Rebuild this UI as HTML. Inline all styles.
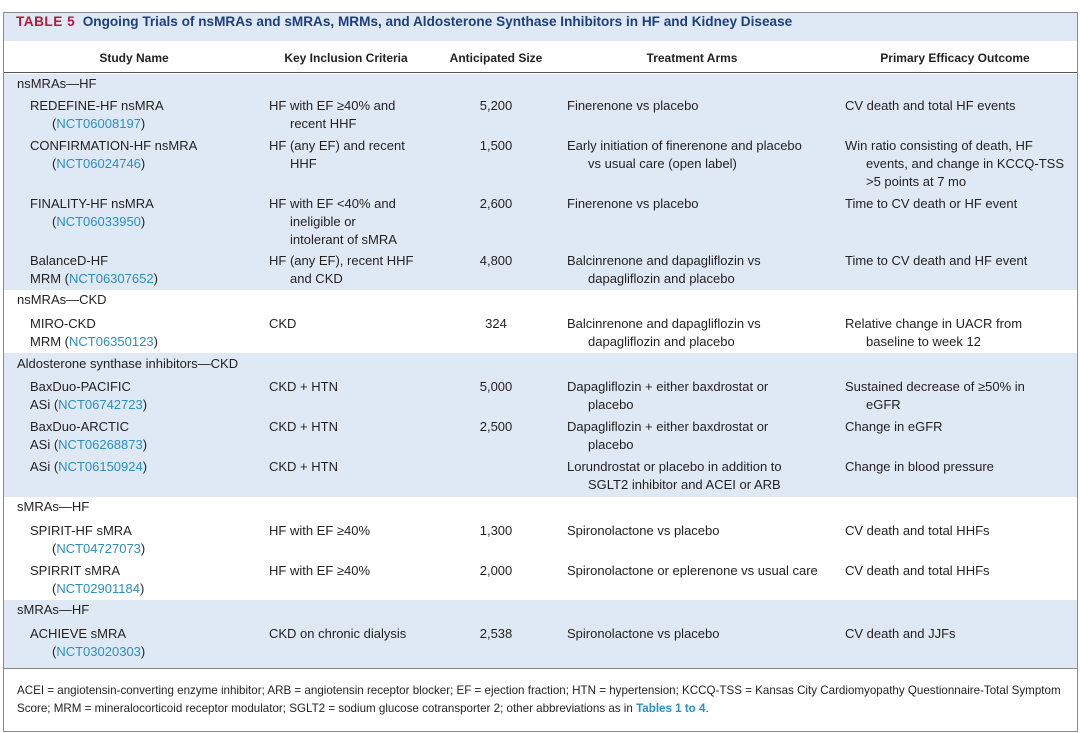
<!DOCTYPE html>
<html><head><meta charset="utf-8"><style>
body{margin:0;width:1080px;height:733px;background:#fff;position:relative;font-family:"Liberation Sans",sans-serif;color:#231f20;overflow:hidden}
.t{position:absolute;font-size:13px;line-height:18px;white-space:nowrap}
.h{position:absolute;font-size:12px;font-weight:bold;line-height:18px;white-space:nowrap}
.c{transform:translateX(-50%)}
.i{padding-left:21px}
.n{padding-left:22px}
a{color:#2a8fc1;text-decoration:none}
.band{position:absolute;left:4px;width:1073px;background:#dfe9f5}
</style></head><body>
<div style="position:absolute;left:3px;top:12px;width:1073px;height:718px;border:1px solid #8a8a8a"></div>
<div class="band" style="top:13px;height:28px"></div>
<div class="band" style="top:74px;height:216px"></div>
<div class="band" style="top:353px;height:144px"></div>
<div class="band" style="top:600px;height:68px"></div>
<div style="position:absolute;left:4px;width:1073px;top:72px;height:1px;background:#555"></div>
<div style="position:absolute;left:4px;width:1073px;top:668px;height:1px;background:#888"></div>
<div class="t" style="left:16px;top:13px;font-weight:bold;font-size:13.6px;color:#1d3f7a"><span style="color:#b5173c;letter-spacing:.5px">TABLE 5</span>&nbsp; Ongoing Trials of nsMRAs and sMRAs, MRMs, and Aldosterone Synthase Inhibitors in HF and Kidney Disease</div>
<div class="h c" style="left:134px;top:49px">Study Name</div>
<div class="h c" style="left:346px;top:49px">Key Inclusion Criteria</div>
<div class="h c" style="left:496px;top:49px">Anticipated Size</div>
<div class="h c" style="left:692px;top:49px">Treatment Arms</div>
<div class="h c" style="left:955px;top:49px">Primary Efficacy Outcome</div>

<div class="t" style="left:17px;top:75px">nsMRAs—HF</div>
<div class="t" style="left:30px;top:97px">REDEFINE-HF nsMRA<div class="n">(<a>NCT06008197</a>)</div></div>
<div class="t" style="left:269px;top:97px">HF with EF ≥40% and<div class="i">recent HHF</div></div>
<div class="t c" style="left:496px;top:97px">5,200</div>
<div class="t" style="left:567px;top:97px">Finerenone vs placebo</div>
<div class="t" style="left:845px;top:97px">CV death and total HF events</div>

<div class="t" style="left:30px;top:137px">CONFIRMATION-HF nsMRA<div class="n">(<a>NCT06024746</a>)</div></div>
<div class="t" style="left:269px;top:137px">HF (any EF) and recent<div class="i">HHF</div></div>
<div class="t c" style="left:496px;top:137px">1,500</div>
<div class="t" style="left:567px;top:137px">Early initiation of finerenone and placebo<div class="i">vs usual care (open label)</div></div>
<div class="t" style="left:845px;top:137px">Win ratio consisting of death, HF<div class="i">events, and change in KCCQ-TSS</div><div class="i">&gt;5 points at 7 mo</div></div>

<div class="t" style="left:30px;top:195px">FINALITY-HF nsMRA<div class="n">(<a>NCT06033950</a>)</div></div>
<div class="t" style="left:269px;top:195px">HF with EF &lt;40% and<div class="i">ineligible or</div><div class="i">intolerant of sMRA</div></div>
<div class="t c" style="left:496px;top:195px">2,600</div>
<div class="t" style="left:567px;top:195px">Finerenone vs placebo</div>
<div class="t" style="left:845px;top:195px">Time to CV death or HF event</div>

<div class="t" style="left:30px;top:252px">BalanceD-HF<br>MRM (<a>NCT06307652</a>)</div>
<div class="t" style="left:269px;top:252px">HF (any EF), recent HHF<div class="i">and CKD</div></div>
<div class="t c" style="left:496px;top:252px">4,800</div>
<div class="t" style="left:567px;top:252px">Balcinrenone and dapagliflozin vs<div class="i">dapagliflozin and placebo</div></div>
<div class="t" style="left:845px;top:252px">Time to CV death and HF event</div>

<div class="t" style="left:17px;top:291px">nsMRAs—CKD</div>
<div class="t" style="left:30px;top:315px">MIRO-CKD<br>MRM (<a>NCT06350123</a>)</div>
<div class="t" style="left:269px;top:315px">CKD</div>
<div class="t c" style="left:496px;top:315px">324</div>
<div class="t" style="left:567px;top:315px">Balcinrenone and dapagliflozin vs<div class="i">dapagliflozin and placebo</div></div>
<div class="t" style="left:845px;top:315px">Relative change in UACR from<div class="i">baseline to week 12</div></div>

<div class="t" style="left:17px;top:355px">Aldosterone synthase inhibitors—CKD</div>
<div class="t" style="left:30px;top:378px">BaxDuo-PACIFIC<br>ASi (<a>NCT06742723</a>)</div>
<div class="t" style="left:269px;top:378px">CKD + HTN</div>
<div class="t c" style="left:496px;top:378px">5,000</div>
<div class="t" style="left:567px;top:378px">Dapagliflozin + either baxdrostat or<div class="i">placebo</div></div>
<div class="t" style="left:845px;top:378px">Sustained decrease of ≥50% in<div class="i">eGFR</div></div>

<div class="t" style="left:30px;top:418px">BaxDuo-ARCTIC<br>ASi (<a>NCT06268873</a>)</div>
<div class="t" style="left:269px;top:418px">CKD + HTN</div>
<div class="t c" style="left:496px;top:418px">2,500</div>
<div class="t" style="left:567px;top:418px">Dapagliflozin + either baxdrostat or<div class="i">placebo</div></div>
<div class="t" style="left:845px;top:418px">Change in eGFR</div>

<div class="t" style="left:30px;top:458px">ASi (<a>NCT06150924</a>)</div>
<div class="t" style="left:269px;top:458px">CKD + HTN</div>
<div class="t" style="left:567px;top:458px">Lorundrostat or placebo in addition to<div class="i">SGLT2 inhibitor and ACEI or ARB</div></div>
<div class="t" style="left:845px;top:458px">Change in blood pressure</div>

<div class="t" style="left:17px;top:498px">sMRAs—HF</div>
<div class="t" style="left:30px;top:522px">SPIRIT-HF sMRA<div class="n">(<a>NCT04727073</a>)</div></div>
<div class="t" style="left:269px;top:522px">HF with EF ≥40%</div>
<div class="t c" style="left:496px;top:522px">1,300</div>
<div class="t" style="left:567px;top:522px">Spironolactone vs placebo</div>
<div class="t" style="left:845px;top:522px">CV death and total HHFs</div>

<div class="t" style="left:30px;top:562px">SPIRRIT sMRA<div class="n">(<a>NCT02901184</a>)</div></div>
<div class="t" style="left:269px;top:562px">HF with EF ≥40%</div>
<div class="t c" style="left:496px;top:562px">2,000</div>
<div class="t" style="left:567px;top:562px">Spironolactone or eplerenone vs usual care</div>
<div class="t" style="left:845px;top:562px">CV death and total HHFs</div>

<div class="t" style="left:17px;top:601px">sMRAs—HF</div>
<div class="t" style="left:30px;top:625px">ACHIEVE sMRA<div class="n">(<a>NCT03020303</a>)</div></div>
<div class="t" style="left:269px;top:625px">CKD on chronic dialysis</div>
<div class="t c" style="left:496px;top:625px">2,538</div>
<div class="t" style="left:567px;top:625px">Spironolactone vs placebo</div>
<div class="t" style="left:845px;top:625px">CV death and JJFs</div>

<div class="t" style="left:17px;top:682px;font-size:11.6px;line-height:18px">ACEI = angiotensin-converting enzyme inhibitor; ARB = angiotensin receptor blocker; EF = ejection fraction; HTN = hypertension; KCCQ-TSS = Kansas City Cardiomyopathy Questionnaire-Total Symptom<br>Score; MRM = mineralocorticoid receptor modulator; SGLT2 = sodium glucose cotransporter 2; other abbreviations as in <a style="font-weight:bold">Tables 1 to 4</a>.</div>
</body></html>
